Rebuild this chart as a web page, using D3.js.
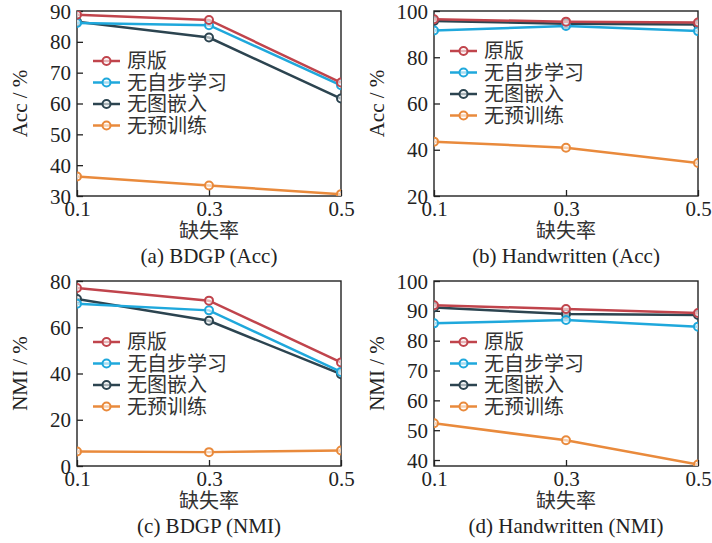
<!DOCTYPE html>
<html>
<head>
<meta charset="utf-8">
<script src="https://cdn.jsdelivr.net/npm/d3@7"></script>
<style>
  body { margin: 0; background: #fff; }
  .tick text { font-family: "Liberation Serif", "DejaVu Serif", serif; font-size: 21px; fill: #222; }
  .cjk { font-family: "Noto Sans CJK SC", sans-serif; font-size: 20px; fill: #333; }
  .serif { font-family: "Liberation Serif", serif; font-size: 21px; fill: #222; }
</style>
</head>
<body>
<svg id="chart" width="712" height="543"></svg>
<script>
// missing rate on the x axis
const missingRates = [0.1, 0.3, 0.5];
const seriesNames = ['原版', '无自步学习', '无图嵌入', '无预训练'];
const seriesColors = ['#c0444c', '#1fa8dc', '#2c4450', '#e98a3c'];

// values per series, in the order of seriesNames
const bdgpAcc = [
  [88.8, 87.1, 66.8],
  [86.1, 85.4, 65.9],
  [86.5, 81.4, 61.6],
  [36.3, 33.4, 30.6]
];
const handAcc = [
  [96.4, 95.4, 95.0],
  [91.6, 93.5, 91.3],
  [95.7, 94.5, 94.2],
  [43.5, 40.9, 34.3]
];
const bdgpNmi = [
  [77.0, 71.5, 44.8],
  [70.2, 67.3, 40.7],
  [72.2, 62.8, 39.7],
  [6.3, 6.0, 6.7]
];
const handNmi = [
  [91.9, 90.6, 89.3],
  [85.8, 86.9, 84.7],
  [91.1, 88.9, 88.6],
  [52.3, 46.6, 38.5]
];

const ticksBdgpAcc = [30, 40, 50, 60, 70, 80, 90];
const ticksHandAcc = [20, 40, 60, 80, 100];
const ticksBdgpNmi = [0, 20, 40, 60, 80];
const ticksHandNmi = [40, 50, 60, 70, 80, 90, 100];

const panels = [
  { data: bdgpAcc, ticks: ticksBdgpAcc, domain: [30, 90], ylabel: 'Acc / %', caption: '(a) BDGP (Acc)',
    x: 77, y: 11, legendY: 50 },
  { data: handAcc, ticks: ticksHandAcc, domain: [20, 100], ylabel: 'Acc / %', caption: '(b) Handwritten (Acc)',
    x: 434, y: 11, legendY: 40 },
  { data: bdgpNmi, ticks: ticksBdgpNmi, domain: [0, 80], ylabel: 'NMI / %', caption: '(c) BDGP (NMI)',
    x: 77, y: 281, legendY: 61 },
  { data: handNmi, ticks: ticksHandNmi, domain: [38, 100], ylabel: 'NMI / %', caption: '(d) Handwritten (NMI)',
    x: 434, y: 281, legendY: 61 }
];

const w = 264, h = 185;
const svg = d3.select('#chart');

panels.forEach((p, i) => {
  const g = svg.append('g').attr('transform', `translate(${p.x},${p.y})`);

  const x = d3.scaleLinear().domain([0.1, 0.5]).range([0, w]);
  const y = d3.scaleLinear().domain(p.domain).range([h, 0]);

  g.append('clipPath').attr('id', 'clip' + i)
    .append('rect').attr('width', w).attr('height', h);

  // axes with inward ticks
  const xAxis = g.append('g').attr('transform', `translate(0,${h})`)
    .call(d3.axisBottom(x).tickValues(missingRates).tickFormat(d3.format('.1f'))
      .tickSizeInner(-6).tickSizeOuter(0).tickPadding(5));
  const yAxis = g.append('g')
    .call(d3.axisLeft(y).tickValues(p.ticks).tickSizeInner(-6).tickSizeOuter(0).tickPadding(6));
  [xAxis, yAxis].forEach(a => {
    a.select('.domain').remove();
    a.selectAll('.tick line').attr('stroke', '#222').attr('stroke-width', 1.3);
  });
  yAxis.selectAll('.tick text').attr('dy', '0.34em');
  xAxis.selectAll('.tick text').attr('dy', '0.72em');

  g.append('rect').attr('width', w).attr('height', h)
    .attr('fill', 'none').attr('stroke', '#222').attr('stroke-width', 1.4);

  const line = d3.line().x((d, j) => x(missingRates[j])).y(d => y(d));
  const plot = g.append('g').attr('clip-path', `url(#clip${i})`);

  // draw so that the first series ends on top, like the reference
  for (let s = p.data.length - 1; s >= 0; s--) {
    plot.append('path').datum(p.data[s])
      .attr('d', line).attr('fill', 'none')
      .attr('stroke', seriesColors[s]).attr('stroke-width', 2.5);
    plot.selectAll(null).data(p.data[s]).enter().append('circle')
      .attr('cx', (d, j) => x(missingRates[j])).attr('cy', d => y(d))
      .attr('r', 4).attr('fill', '#fff').attr('fill-opacity', 0.6)
      .attr('stroke', seriesColors[s]).attr('stroke-width', 2);
  }

  // legend
  const lg = g.append('g').attr('transform', `translate(16,${p.legendY})`);
  seriesNames.forEach((name, s) => {
    const row = lg.append('g').attr('transform', `translate(0,${s * 21.5})`);
    row.append('line').attr('x1', 0).attr('x2', 27)
      .attr('stroke', seriesColors[s]).attr('stroke-width', 2.5);
    row.append('circle').attr('cx', 13.5).attr('r', 4)
      .attr('fill', '#fff').attr('fill-opacity', 0.6)
      .attr('stroke', seriesColors[s]).attr('stroke-width', 2);
    row.append('text').attr('class', 'cjk').attr('x', 34).attr('dy', '0.36em').text(name);
  });

  // labels
  g.append('text').attr('class', 'serif')
    .attr('transform', `translate(-50,${h / 2}) rotate(-90)`)
    .attr('text-anchor', 'middle').text(p.ylabel);
  g.append('text').attr('class', 'cjk')
    .attr('x', w / 2).attr('y', h + 42).attr('text-anchor', 'middle').text('缺失率');
  g.append('text').attr('class', 'serif')
    .attr('x', w / 2).attr('y', h + 67).attr('text-anchor', 'middle').text(p.caption);
});
</script>
</body>
</html>
